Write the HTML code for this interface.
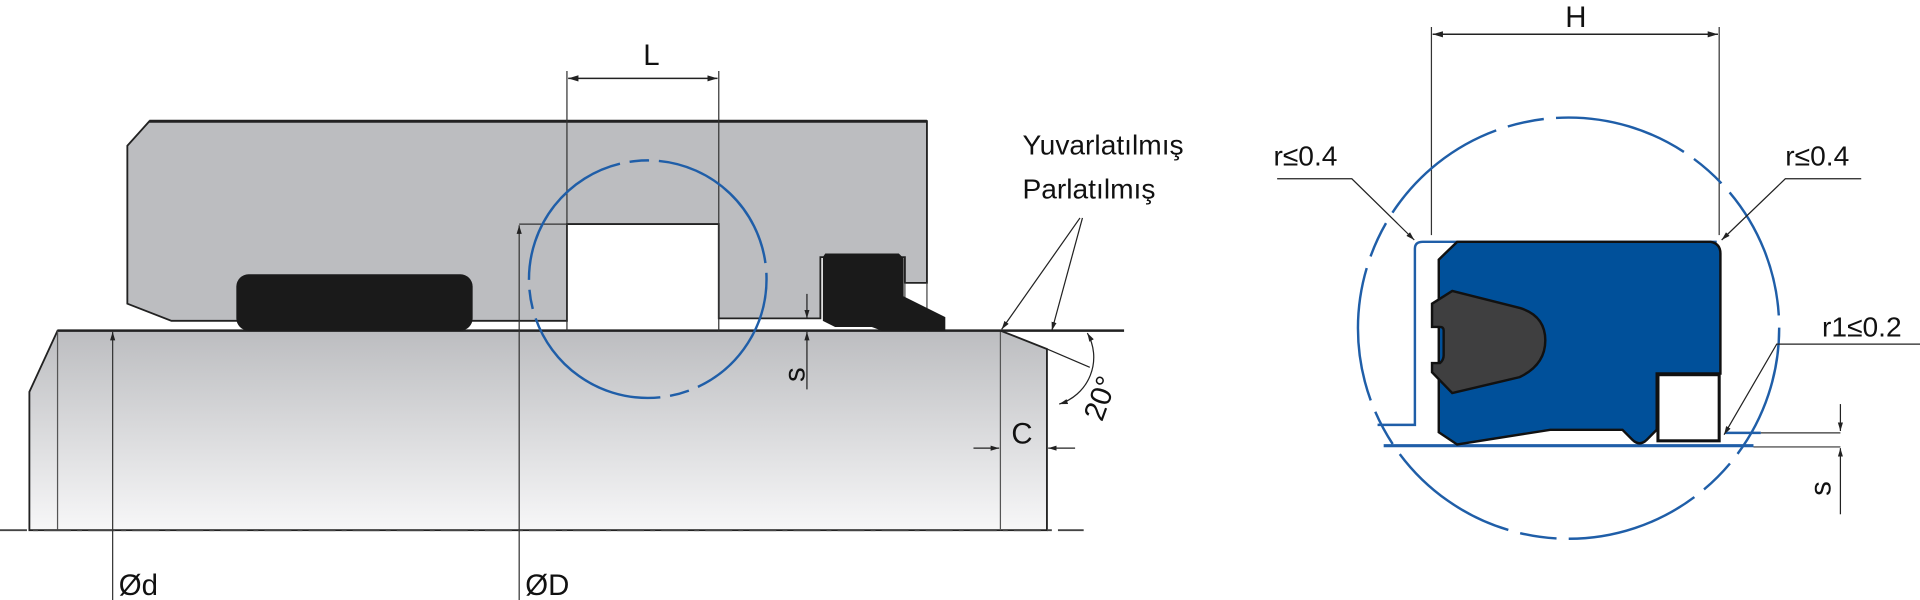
<!DOCTYPE html>
<html><head><meta charset="utf-8"><style>
html,body{margin:0;padding:0;background:#fff;width:1920px;height:600px;overflow:hidden}
svg{display:block}
text{font-family:"Liberation Sans",sans-serif;fill:#111}
</style></head><body>
<svg width="1920" height="600" viewBox="0 0 1568 490" preserveAspectRatio="none" xmlns="http://www.w3.org/2000/svg">
<defs>
<linearGradient id="rod" x1="0" y1="0" x2="0" y2="1">
<stop offset="0" stop-color="#bcbdc0"/><stop offset="1" stop-color="#f7f7f8"/>
</linearGradient>
<marker id="ar" viewBox="0 0 10 10" refX="10" refY="5" markerWidth="7" markerHeight="7" orient="auto-start-reverse"><path d="M0,2 L10,5 L0,8 Z" fill="#222"/></marker>
</defs>

<!-- rod -->
<polygon points="47,270 817,270 855,285 855,433 24,433 24,320" fill="url(#rod)" stroke="#222" stroke-width="1.5"/>
<line x1="47" y1="270" x2="47" y2="433" stroke="#555" stroke-width="1"/>
<line x1="817" y1="270" x2="817" y2="433" stroke="#555" stroke-width="1"/>
<line x1="47" y1="270" x2="918" y2="270" stroke="#222" stroke-width="2"/>
<line x1="0" y1="433" x2="885" y2="433" stroke="#444" stroke-width="1.5" stroke-dasharray="22,5,4,5"/>

<!-- housing -->
<polygon points="122,99 757,99 757,231 739,231 739,210 670,210 670,260 587,260 587,183 463,183 463,262 140,262 104,248 104,119" fill="#bcbdc0" stroke="#222" stroke-width="1.5"/>
<line x1="739" y1="231" x2="739" y2="270" stroke="#444" stroke-width="1"/>
<line x1="757" y1="231" x2="757" y2="270" stroke="#444" stroke-width="1"/>
<line x1="122" y1="99" x2="757" y2="99" stroke="#222" stroke-width="2.5"/>
<!-- O-ring -->
<rect x="193" y="224" width="193" height="46" rx="10" fill="#1a1a1a"/>
<!-- wiper -->
<polygon points="674,207 734,207 738,211 738,242 772,259 772,270 720,270 712,267 682,267 672,262 672,210" fill="#1a1a1a"/>

<!-- L dim -->
<line x1="463" y1="58" x2="463" y2="270" stroke="#333" stroke-width="1"/>
<line x1="587" y1="58" x2="587" y2="270" stroke="#333" stroke-width="1"/>
<line x1="464" y1="64" x2="586" y2="64" stroke="#222" stroke-width="1.2" marker-start="url(#ar)" marker-end="url(#ar)"/>
<text x="532" y="53" font-size="24" text-anchor="middle">L</text>

<!-- D / d -->
<line x1="424" y1="183" x2="463" y2="183" stroke="#333" stroke-width="1"/>
<line x1="424" y1="184" x2="424" y2="490" stroke="#333" stroke-width="1" marker-start="url(#ar)"/>
<line x1="92" y1="271" x2="92" y2="490" stroke="#333" stroke-width="1" marker-start="url(#ar)"/>
<text x="97" y="486" font-size="24">Ød</text>
<text x="429" y="486" font-size="24">ØD</text>

<!-- s left -->
<line x1="659" y1="240" x2="659" y2="260" stroke="#222" stroke-width="1" marker-end="url(#ar)"/>
<line x1="659" y1="318" x2="659" y2="271" stroke="#222" stroke-width="1" marker-end="url(#ar)"/>
<text x="0" y="0" font-size="24" transform="translate(657,312) rotate(-90)">s</text>

<!-- circle left -->
<circle cx="529" cy="228" r="97" fill="none" stroke="#1f5ea8" stroke-width="2" stroke-dasharray="130,8,16,8" stroke-dashoffset="20"/>

<!-- C dim -->
<line x1="795" y1="366" x2="816" y2="366" stroke="#222" stroke-width="1" marker-end="url(#ar)"/>
<line x1="878" y1="366" x2="856" y2="366" stroke="#222" stroke-width="1" marker-end="url(#ar)"/>
<text x="826" y="362" font-size="24">C</text>

<!-- 20 deg -->
<line x1="855" y1="285" x2="890" y2="300" stroke="#222" stroke-width="1"/>
<path d="M888,272 A40,40 0 0 1 865,330" fill="none" stroke="#222" stroke-width="1" marker-start="url(#ar)" marker-end="url(#ar)"/>
<text x="0" y="0" font-size="24" transform="translate(900,345) rotate(-70)">20°</text>

<!-- leaders -->
<line x1="818" y1="269" x2="882" y2="178" stroke="#222" stroke-width="1" marker-start="url(#ar)"/>
<line x1="859" y1="270" x2="884" y2="178" stroke="#222" stroke-width="1" marker-start="url(#ar)"/>
<text x="835" y="126" font-size="23">Yuvarlatılmış</text>
<text x="835" y="162" font-size="23">Parlatılmış</text>

<!-- RIGHT -->
<line x1="1169" y1="22" x2="1169" y2="246" stroke="#333" stroke-width="1"/>
<line x1="1404" y1="22" x2="1404" y2="196" stroke="#333" stroke-width="1"/>
<line x1="1170" y1="28" x2="1403" y2="28" stroke="#222" stroke-width="1.2" marker-start="url(#ar)" marker-end="url(#ar)"/>
<text x="1287" y="22" font-size="24" text-anchor="middle">H</text>

<circle cx="1281" cy="268" r="172" fill="none" stroke="#1f5ea8" stroke-width="2" stroke-dasharray="110,10,30,10"/>
<rect x="1157" y="192" width="250" height="168" fill="#fff"/>
<path d="M1125,347 L1155.5,347 L1155.5,203 Q1155.5,197.5 1162,197.5 L1402,197.5" fill="none" stroke="#1f5ea8" stroke-width="2"/>
<path d="M1409,353.5 L1438,353.5" fill="none" stroke="#1f5ea8" stroke-width="2"/>
<line x1="1130" y1="364" x2="1432" y2="364" stroke="#1f5ea8" stroke-width="2.5"/>

<path d="M1190,197.5 L1397,197.5 Q1405,199 1405,207 L1405,305 L1353,305 L1353,351 L1345,359 Q1339,365 1333,359 L1325,351 L1266,351 L1190,363 L1175,353 L1175,212 Z" fill="#00509a" stroke="#111" stroke-width="2"/>
<path d="M1186,237.6 L1241.5,251.6 Q1262,258 1262,278 Q1262,298 1241,308 L1186,321 L1169.5,304 L1169.5,296.5 L1176,296.5 Q1179,294 1179,290 L1179,270 Q1179,267 1176,267 L1169.5,267 L1169.5,248 Z" fill="#3f3f40" stroke="#111" stroke-width="2"/>
<rect x="1354" y="306" width="50" height="54" fill="#fff" stroke="#111" stroke-width="2.5"/>

<!-- leaders right -->
<polyline points="1043,146 1104,146 1155,196" fill="none" stroke="#222" stroke-width="1" marker-end="url(#ar)"/>
<text x="1040" y="135" font-size="23">r≤0.4</text>
<polyline points="1520,146 1458,146 1406,196" fill="none" stroke="#222" stroke-width="1" marker-end="url(#ar)"/>
<text x="1458" y="135" font-size="23">r≤0.4</text>
<polyline points="1568,281 1451,281 1408,355" fill="none" stroke="#222" stroke-width="1" marker-end="url(#ar)"/>
<text x="1488" y="275" font-size="23">r1≤0.2</text>

<!-- s right -->
<line x1="1438" y1="353.5" x2="1503" y2="353.5" stroke="#333" stroke-width="1"/>
<line x1="1432" y1="365" x2="1503" y2="365" stroke="#333" stroke-width="1"/>
<line x1="1503" y1="330" x2="1503" y2="352" stroke="#222" stroke-width="1" marker-end="url(#ar)"/>
<line x1="1503" y1="420" x2="1503" y2="366" stroke="#222" stroke-width="1" marker-end="url(#ar)"/>
<text x="0" y="0" font-size="24" transform="translate(1495,405) rotate(-90)">s</text>
</svg>
</body></html>
